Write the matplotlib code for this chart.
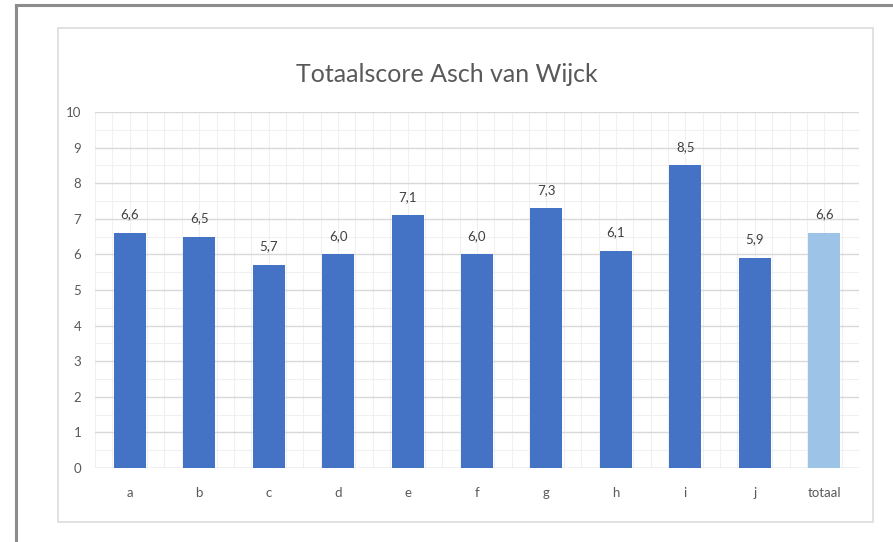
import matplotlib
matplotlib.use("Agg")
import matplotlib.pyplot as plt
from matplotlib.lines import Line2D
from matplotlib.patches import Rectangle
from matplotlib.ticker import MultipleLocator

# datos de la grafica
categorias = ["a", "b", "c", "d", "e", "f", "g", "h", "i", "j", "totaal"]
scores = [6.6, 6.5, 5.7, 6.0, 7.1, 6.0, 7.3, 6.1, 8.5, 5.9, 6.6]
colores = ["#4472C4"] * 10 + ["#9DC3E6"]

plt.rcParams["font.family"] = ["Lato", "DejaVu Sans"]

fig = plt.figure(figsize=(8.93, 5.42), dpi=100)
W, H = 893, 542

# marco exterior gris (arriba e izquierda)
fig.add_artist(Line2D([16 / W, 1], [1 - 5 / H, 1 - 5 / H], color="#8c8c8c", lw=2.2))
fig.add_artist(Line2D([16 / W, 16 / W], [0, 1 - 5 / H], color="#8c8c8c", lw=2.2))
# borde del area de grafico
fig.add_artist(Rectangle((58 / W, 1 - 522 / H), (873 - 58) / W, (522 - 28) / H,
                         fill=False, edgecolor="#dcdcdc", lw=1.2))

ax = fig.add_axes([95 / W, 74 / H, (859 - 95) / W, (468 - 112) / H])
x = range(len(categorias))
barras = ax.bar(x, scores, width=0.46, color=colores, zorder=3)

for b, v in zip(barras, scores):
    ax.text(b.get_x() + b.get_width() / 2, v + 0.35, f"{v:.1f}".replace(".", ","),
            ha="center", va="bottom", fontsize=9.5, color="#404040", zorder=4)

ax.set_ylim(0, 10)
ax.set_xlim(-0.5, len(categorias) - 0.5)
ax.set_yticks(range(0, 11))
ax.set_xticks(list(x))
ax.set_xticklabels(categorias)
ax.yaxis.set_minor_locator(MultipleLocator(0.5))
ax.xaxis.set_minor_locator(MultipleLocator(0.25))
ax.grid(which="major", axis="y", color="#d9d9d9", lw=1.0, zorder=0)
ax.grid(which="minor", color="#f0f0f0", lw=0.8, zorder=0)
ax.grid(which="major", axis="x", color="#f0f0f0", lw=0.8, zorder=0)
ax.tick_params(which="both", length=0)
ax.tick_params(axis="both", colors="#595959", labelsize=9.5)
ax.tick_params(axis="x", pad=14)
ax.tick_params(axis="y", pad=10)
for s in ax.spines.values():
    s.set_visible(False)
ax.axhline(0, color="#d9d9d9", lw=1.0, zorder=2)

fig.text(0.5, 1 - 75 / H, "Totaalscore Asch van Wijck", ha="center", va="center",
         fontsize=18, color="#595959")

fig.savefig("out.png", dpi=100)
